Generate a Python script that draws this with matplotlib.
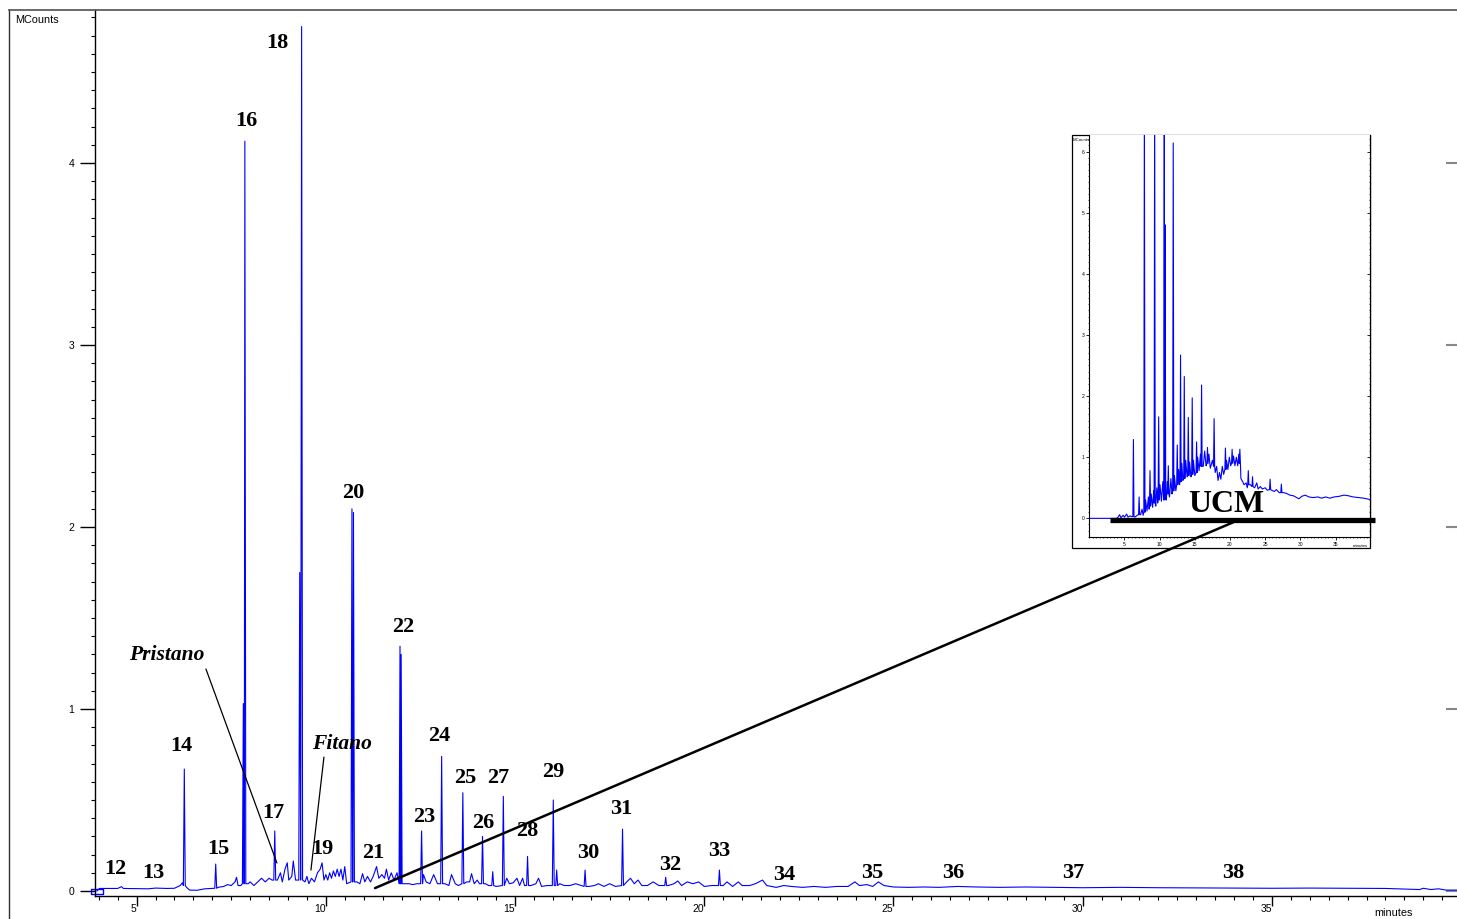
import numpy as np
import matplotlib
matplotlib.use("Agg")
import matplotlib.pyplot as plt
from matplotlib.ticker import MultipleLocator
from matplotlib.patches import Rectangle, ConnectionPatch
from matplotlib.lines import Line2D

plt.rcParams['font.family'] = ['Liberation Sans', 'DejaVu Sans']

W, H = 1457, 919

# ---- main chromatogram: noisy baseline (minutes, MCounts)
baseline = [
    (3.95, 0.0), (4.02, 0.014), (4.5, 0.014), (4.6, 0.024), (4.65, 0.014), (5.0, 0.013),
    (5.3, 0.012), (5.5, 0.016), (5.8, 0.014), (6.0, 0.015), (6.15, 0.03), (6.21, 0.045),
    (6.32, 0.02), (6.4, 0.005), (6.6, 0.004), (6.8, 0.012), (7.0, 0.014), (7.15, 0.02),
    (7.3, 0.025), (7.4, 0.035), (7.5, 0.03), (7.6, 0.05), (7.64, 0.075), (7.68, 0.03),
    (7.75, 0.03), (7.95, 0.04), (8.0, 0.05), (8.1, 0.03), (8.2, 0.05), (8.3, 0.07),
    (8.4, 0.05), (8.5, 0.07), (8.58, 0.06), (8.72, 0.06), (8.8, 0.1), (8.85, 0.05),
    (8.92, 0.12), (8.98, 0.155), (9.02, 0.06), (9.1, 0.08), (9.14, 0.165), (9.2, 0.06),
    (9.25, 0.06), (9.45, 0.05), (9.5, 0.08), (9.55, 0.04), (9.62, 0.07), (9.7, 0.05),
    (9.78, 0.1), (9.85, 0.12), (9.9, 0.155), (9.95, 0.06), (10.0, 0.09), (10.05, 0.06),
    (10.1, 0.1), (10.15, 0.07), (10.2, 0.11), (10.25, 0.08), (10.3, 0.12), (10.35, 0.08),
    (10.4, 0.12), (10.45, 0.06), (10.5, 0.134), (10.55, 0.04), (10.82, 0.05), (10.9, 0.04),
    (10.97, 0.095), (11.03, 0.05), (11.1, 0.08), (11.18, 0.05), (11.25, 0.08), (11.34, 0.134),
    (11.4, 0.07), (11.48, 0.09), (11.55, 0.07), (11.6, 0.12), (11.66, 0.06), (11.73, 0.1),
    (11.8, 0.06), (11.88, 0.1), (12.08, 0.04), (12.2, 0.04), (12.3, 0.035), (12.4, 0.04),
    (12.58, 0.09), (12.65, 0.05), (12.75, 0.04), (12.85, 0.09), (12.95, 0.04), (13.15, 0.04),
    (13.25, 0.03), (13.32, 0.09), (13.42, 0.04), (13.5, 0.03), (13.72, 0.05), (13.8, 0.05),
    (13.85, 0.095), (13.92, 0.04), (14.0, 0.06), (14.06, 0.04), (14.22, 0.04), (14.3, 0.03),
    (14.5, 0.025), (14.78, 0.07), (14.85, 0.04), (14.95, 0.045), (15.05, 0.07), (15.12, 0.03),
    (15.2, 0.07), (15.25, 0.03), (15.42, 0.03), (15.55, 0.04), (15.62, 0.07), (15.7, 0.025),
    (15.85, 0.03), (16.18, 0.04), (16.3, 0.03), (16.45, 0.03), (16.6, 0.04), (16.75, 0.03),
    (16.95, 0.025), (17.1, 0.03), (17.2, 0.04), (17.35, 0.025), (17.5, 0.04), (17.65, 0.025),
    (17.95, 0.05), (18.05, 0.07), (18.15, 0.04), (18.25, 0.06), (18.35, 0.03), (18.5, 0.03),
    (18.65, 0.05), (18.8, 0.03), (19.05, 0.03), (19.2, 0.04), (19.3, 0.055), (19.4, 0.03),
    (19.55, 0.05), (19.7, 0.04), (19.85, 0.05), (20.0, 0.025), (20.2, 0.03), (20.5, 0.03),
    (20.6, 0.05), (20.75, 0.025), (20.9, 0.05), (21.0, 0.03), (21.2, 0.03), (21.35, 0.04),
    (21.54, 0.06), (21.65, 0.03), (21.9, 0.02), (22.1, 0.03), (22.3, 0.025), (22.6, 0.02),
    (22.9, 0.025), (23.2, 0.02), (23.5, 0.025), (23.8, 0.025), (23.98, 0.05), (24.1, 0.03),
    (24.3, 0.035), (24.45, 0.025), (24.6, 0.05), (24.75, 0.03), (25.0, 0.022), (25.4, 0.02),
    (25.8, 0.022), (26.2, 0.02), (26.7, 0.025), (27.2, 0.022), (27.8, 0.02), (28.5, 0.022),
    (29.2, 0.02), (30.0, 0.018), (31.0, 0.02), (32.0, 0.018), (33.0, 0.017), (34.0, 0.016),
    (35.0, 0.015), (36.0, 0.016), (37.0, 0.015), (38.0, 0.014), (38.9, 0.008), (39.0, 0.015),
    (39.2, 0.008), (39.4, 0.012), (39.6, 0.005), (39.9, 0.005),
]

# peaks: retention time, apex, foot
peak_t = [6.26, 7.09, 7.82, 7.86, 8.65, 9.31, 9.36, 10.69, 10.73, 11.96, 11.99, 12.53,
          13.06, 13.62, 14.14, 14.41, 14.69, 15.33, 16.01, 16.10, 16.85, 17.84, 18.98, 20.40]
peak_top = [0.67, 0.148, 1.03, 4.12, 0.33, 1.75, 4.75, 2.10, 2.08, 1.345, 1.30, 0.33,
            0.74, 0.54, 0.30, 0.106, 0.52, 0.19, 0.50, 0.115, 0.115, 0.34, 0.075, 0.115]
peak_foot = [0.03, 0.015, 0.04, 0.04, 0.06, 0.06, 0.06, 0.05, 0.05, 0.04, 0.04, 0.04,
             0.04, 0.04, 0.04, 0.03, 0.03, 0.03, 0.03, 0.03, 0.025, 0.03, 0.03, 0.03]

# carbon number labels (text anchor in data units)
lab_txt = ['12', '13', '14', '15', '16', '17', '18', '19', '20', '21', '22', '23', '24',
           '25', '26', '27', '28', '29', '30', '31', '32', '33', '34', '35', '36', '37', '38']
lab_t = [4.43, 5.43, 6.17, 7.15, 7.89, 8.60, 8.73, 9.92, 10.72, 11.25, 12.04, 12.59, 13.00,
         13.68, 14.15, 14.55, 15.33, 16.00, 16.93, 17.80, 19.09, 20.39, 22.11, 24.45, 26.57,
         29.74, 33.97]
lab_y = [0.132, 0.115, 0.808, 0.247, 4.247, 0.440, 4.676, 0.247, 2.203, 0.220, 1.467, 0.418,
         0.868, 0.632, 0.390, 0.637, 0.341, 0.665, 0.225, 0.462, 0.154, 0.231, 0.104, 0.113,
         0.115, 0.115, 0.115]

# ---- inset (whole run with UCM hump)
inset_base = [
    (0.0, 0.0), (3.9, 0.0), (4.1, 0.02), (4.3, 0.06), (4.5, 0.01), (4.8, 0.05), (5.0, 0.02),
    (5.3, 0.07), (5.5, 0.02), (5.8, 0.04), (6.0, 0.03), (6.5, 0.02), (6.8, 0.05), (7.3, 0.06),
    (7.5, 0.15), (7.65, 0.05), (8.0, 0.3), (8.2, 0.12), (8.4, 0.35), (8.5, 0.15), (8.8, 0.4),
    (9.0, 0.18), (9.15, 0.45), (9.45, 0.2), (9.6, 0.5), (9.72, 0.25), (10.05, 0.55),
    (10.25, 0.28), (10.45, 0.6), (10.95, 0.3), (11.1, 0.6), (11.4, 0.35), (11.6, 0.65),
    (11.75, 0.4), (12.1, 0.7), (12.3, 0.45), (12.7, 0.8), (12.83, 0.55), (13.15, 0.9),
    (13.3, 0.62), (13.7, 0.95), (13.9, 0.68), (14.25, 0.92), (14.45, 0.68), (14.8, 0.95),
    (15.0, 0.7), (15.4, 1.0), (15.6, 0.78), (15.8, 1.05), (16.2, 0.85), (16.4, 1.1),
    (16.6, 0.86), (17.0, 1.05), (17.2, 0.82), (17.5, 0.95), (17.9, 0.75), (18.1, 0.85),
    (18.3, 0.62), (18.5, 0.75), (18.7, 0.64), (18.9, 0.85), (19.1, 0.72), (19.5, 0.95),
    (19.7, 0.8), (19.9, 1.0), (20.1, 0.86), (20.5, 1.02), (20.7, 0.86), (20.9, 1.0),
    (21.1, 0.86), (21.25, 1.05), (21.55, 0.65), (21.8, 0.6), (22.0, 0.55), (22.3, 0.58),
    (22.45, 0.5), (22.9, 0.55), (23.5, 0.5), (23.8, 0.58), (24.0, 0.48), (24.3, 0.52),
    (24.6, 0.48), (25.0, 0.5), (25.3, 0.46), (25.9, 0.46), (26.3, 0.44), (26.6, 0.47),
    (27.0, 0.42), (27.6, 0.42), (28.0, 0.41), (28.5, 0.38), (29.0, 0.37), (29.5, 0.34),
    (29.8, 0.32), (30.2, 0.36), (30.7, 0.38), (31.2, 0.35), (31.8, 0.34), (32.5, 0.35),
    (33.0, 0.33), (33.6, 0.35), (34.2, 0.33), (34.8, 0.35), (35.5, 0.36), (36.2, 0.38),
    (36.8, 0.37), (37.5, 0.35), (38.2, 0.34), (39.0, 0.33), (39.8, 0.31),
]
inset_peak_t = [6.27, 7.08, 7.83, 8.63, 9.29, 9.86, 10.66, 10.78, 11.23, 11.93, 12.5, 12.97,
                13.5, 14.07, 14.63, 15.25, 15.96, 16.8, 17.74, 19.35, 20.3, 21.4, 22.6, 23.2,
                25.7, 27.3]
inset_peak_top = [1.29, 0.35, 7.0, 0.78, 7.0, 1.66, 7.0, 4.8, 0.86, 6.14, 1.2, 2.67,
                  2.32, 1.65, 1.97, 1.25, 2.18, 1.16, 1.63, 1.15, 1.13, 1.13, 0.78, 0.68,
                  0.64, 0.56]
inset_peak_foot = [0.03, 0.06, 0.1, 0.2, 0.25, 0.3, 0.3, 0.35, 0.4, 0.45, 0.55, 0.6,
                   0.65, 0.7, 0.72, 0.75, 0.85, 0.9, 0.85, 0.8, 0.9, 0.9, 0.55, 0.52,
                   0.47, 0.42]


def build_trace(base, pt, ptop, pfoot, dw):
    pts = list(base)
    for t, top, foot in zip(pt, ptop, pfoot):
        pts += [(t - dw, foot), (t, top), (t + dw, foot)]
    pts.sort()
    tt, yy = zip(*pts)
    return np.array(tt), np.array(yy)


def px(x, y):
    return x / W, 1 - y / H


fig = plt.figure(figsize=(W / 100, H / 100), dpi=100)

# outer frame (left and top edges visible)
fig.add_artist(Line2D([px(9, 0)[0], px(9, 0)[0]], [px(0, 10)[1], 0], transform=fig.transFigure,
                      color='#303030', lw=1.0))
fig.add_artist(Line2D([px(9, 0)[0], 1], [px(0, 10)[1], px(0, 10)[1]], transform=fig.transFigure,
                      color='#505050', lw=1.2))

x0, y0 = px(95, 896)
x1, y1 = px(1460, 10)
ax = fig.add_axes([x0, y0, x1 - x0, y1 - y0])
ax.set_xlim(3.90, 39.97)
ax.set_ylim(-0.0275, 4.841)
for s in ['top', 'right']:
    ax.spines[s].set_visible(False)
ax.spines['left'].set_linewidth(1.0)
ax.spines['bottom'].set_linewidth(1.0)

tt, yy = build_trace(baseline, peak_t, peak_top, peak_foot, 0.025)
ax.plot(tt, yy, color='#0000ff', lw=0.8)
# start-of-run marker
ax.plot([3.96], [0.0], marker=[(-2.5, -1), (2.5, -1), (2.5, 1), (-2.5, 1), (-2.5, -1)],
        ms=9, mfc='none', mec='#0000ff', mew=1.0, ls='none', clip_on=False)

ax.set_xticks([5, 10, 15, 20, 25, 30, 35])
ax.xaxis.set_minor_locator(MultipleLocator(0.5))
ax.set_yticks([0, 1, 2, 3, 4])
ax.yaxis.set_minor_locator(MultipleLocator(0.1))
ax.tick_params(axis='x', which='major', direction='out', length=7, width=1, pad=-1, labelsize=7.5)
ax.tick_params(axis='x', which='minor', direction='out', length=3, width=0.8)
ax.tick_params(axis='y', which='major', direction='out', length=10.8, width=1, pad=4, labelsize=7.5)
ax.tick_params(axis='y', which='minor', direction='out', length=3, width=0.8)
for lbl in ax.get_xticklabels():
    lbl.set_ha('right')

sec = ax.secondary_yaxis('right')
sec.set_yticks([0, 1, 2, 3, 4])
sec.yaxis.set_minor_locator(MultipleLocator(0.1))
sec.tick_params(axis='y', which='major', direction='in', length=10, width=1.5, color='#888888',
                labelright=False)
sec.tick_params(axis='y', which='minor', direction='in', length=2.5, width=0.8, color='#bbbbbb')

for s, t, y in zip(lab_txt, lab_t, lab_y):
    ax.text(t, y, s, family=['Liberation Serif'], weight='bold', fontsize=16,
            ha='center', va='center_baseline')

ax.text(5.80, 1.308, 'Pristano', family=['Liberation Serif'], weight='bold', style='italic',
        fontsize=15.5, ha='center', va='center_baseline')
ax.text(10.43, 0.819, 'Fitano', family=['Liberation Serif'], weight='bold', style='italic',
        fontsize=15.5, ha='center', va='center_baseline')
ax.annotate('', xy=(8.707, 0.154), xytext=(6.831, 1.220),
            arrowprops=dict(arrowstyle='-', lw=0.9, color='k', shrinkA=0, shrinkB=0))
ax.annotate('', xy=(9.606, 0.115), xytext=(9.950, 0.736),
            arrowprops=dict(arrowstyle='-', lw=0.9, color='k', shrinkA=0, shrinkB=0))

fig.text(*px(15, 20), 'MCounts', fontsize=7.8, ha='left', va='center')
fig.text(*px(1393, 913), 'minutes', fontsize=7.8, ha='center', va='center')

# ---- inset
fx0, fy0 = px(1071.7, 548)
fx1, fy1 = px(1370, 135)
frame = Rectangle((fx0, fy0), fx1 - fx0, fy1 - fy0, transform=fig.transFigure,
                  fc='white', ec='black', lw=0.9, zorder=1)
fig.add_artist(frame)

ix0, iy0 = px(1089.3, 537.3)
ix1, iy1 = px(1370, 135)
axi = fig.add_axes([ix0, iy0, ix1 - ix0, iy1 - iy0], zorder=2)
axi.set_xlim(0, 39.9)
axi.set_ylim(-0.31, 6.27)
axi.spines['top'].set_visible(False)
axi.spines['right'].set_linewidth(0.8)
axi.spines['left'].set_linewidth(0.8)
axi.spines['bottom'].set_linewidth(0.8)
it, iy = build_trace(inset_base, inset_peak_t, inset_peak_top, inset_peak_foot, 0.08)
axi.plot(it, iy, color='#0000ff', lw=0.8)
axi.set_xticks([5, 10, 15, 20, 25, 30, 35])
axi.xaxis.set_minor_locator(MultipleLocator(0.5))
axi.set_yticks([0, 1, 2, 3, 4, 5, 6])
axi.yaxis.set_minor_locator(MultipleLocator(0.1))
axi.tick_params(axis='both', which='major', direction='out', length=2.5, width=0.6,
                labelsize=3.6, pad=1)
axi.tick_params(axis='both', which='minor', direction='out', length=1, width=0.5)
isec = axi.secondary_yaxis('right')
isec.set_yticks([0, 1, 2, 3, 4, 5, 6])
isec.yaxis.set_minor_locator(MultipleLocator(0.1))
isec.tick_params(axis='y', which='major', direction='in', length=2.5, width=0.6, labelright=False)
isec.tick_params(axis='y', which='minor', direction='in', length=1, width=0.5)
fig.text(*px(1073, 140), 'MCounts', fontsize=3.2, ha='left', va='center', zorder=3)
fig.text(*px(1360, 546), 'minutes', fontsize=3.2, ha='center', va='center', zorder=3)

# UCM bar and label
axi.plot([3.0, 40.6], [-0.033, -0.033], color='black', lw=3.8, solid_capstyle='butt',
         clip_on=False, zorder=4)
axi.text(19.5, 0.278, 'UCM', family=['Liberation Serif'], weight='bold', fontsize=23,
         ha='center', va='center_baseline', zorder=5)

con = ConnectionPatch(xyA=(11.3, 0.016), coordsA=ax.transData,
                      xyB=(20.45, -0.065), coordsB=axi.transData,
                      color='black', lw=1.8, zorder=6)
fig.add_artist(con)

fig.savefig('out.png', dpi=100)
